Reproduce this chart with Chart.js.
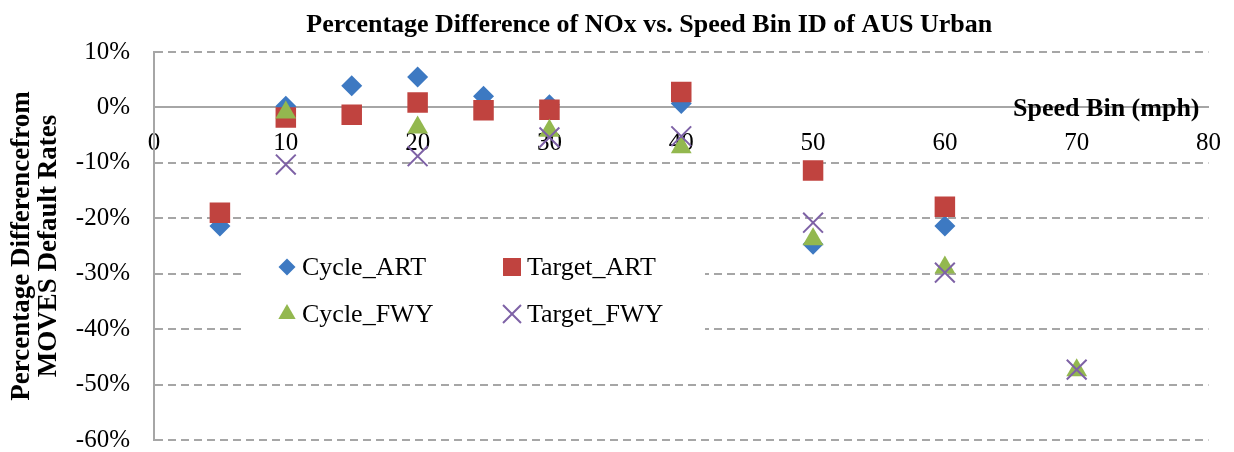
<!DOCTYPE html>
<html>
<head>
<meta charset="utf-8">
<script src="https://cdn.jsdelivr.net/npm/chart.js@4/dist/chart.umd.min.js"></script>
<style>
  html, body { margin: 0; padding: 0; background: #fff; }
  #wrap { width: 1234px; height: 452px; }
</style>
</head>
<body>
<div id="wrap"><canvas id="chart" width="1234" height="452"></canvas></div>
<script>
// Speed bins (mph) and percentage differences
const seriesNames = ['Cycle_ART', 'Target_ART', 'Cycle_FWY', 'Target_FWY']
const cycleArtX = [5, 10, 15, 20, 25, 30, 40, 50, 60]
const cycleArtY = [-21.4, 0.2, 3.9, 5.5, 2.0, 0.5, 0.7, -24.7, -21.4]
const targetArtX = [5, 10, 15, 20, 25, 30, 40, 50, 60]
const targetArtY = [-19.0, -1.8, -1.3, 0.9, -0.5, -0.4, 2.8, -11.4, -17.9]
const cycleFwyX = [10, 20, 30, 40, 50, 60, 70]
const cycleFwyY = [-0.9, -3.6, -4.2, -7.2, -23.8, -28.9, -47.4]
const targetFwyX = [10, 20, 30, 40, 50, 60, 70]
const targetFwyY = [-10.3, -8.8, -5.4, -5.2, -20.8, -29.8, -47.3]
const xTicks = [0, 10, 20, 30, 40, 50, 60, 70, 80]
const yTicks = [10, 0, -10, -20, -30, -40, -50, -60]

const chartTitle = 'Percentage Difference of NOx vs. Speed Bin ID of AUS Urban'
const xTitle = 'Speed Bin (mph)'
const yTitle = ['Percentage Differencefrom', 'MOVES Default Rates']

const serif = "'Liberation Serif', 'Times New Roman', serif"

function pts(xs, ys) {
  return xs.map((x, i) => ({ x: x, y: ys[i] }))
}

// marker look per series; legend markers are a bit smaller
const styles = [
  { pointStyle: 'rectRot', radius: 10.5, legendRadius: 8.5, color: '#3D79C2', border: 0 },
  { pointStyle: 'rect', radius: 14.5, legendRadius: 12.7, color: '#C0433F', border: 0 },
  { pointStyle: 'triangle', radius: 12, legendRadius: 10, color: '#93B84F', border: 0 },
  { pointStyle: 'crossRot', radius: 14, legendRadius: 12.7, color: '#7E62A6', border: 2 }
]
const allData = [
  pts(cycleArtX, cycleArtY),
  pts(targetArtX, targetArtY),
  pts(cycleFwyX, cycleFwyY),
  pts(targetFwyX, targetFwyY)
]

const datasets = seriesNames.map((name, i) => ({
  label: name,
  data: allData[i],
  pointStyle: styles[i].pointStyle,
  pointRadius: styles[i].radius,
  pointHoverRadius: styles[i].radius,
  backgroundColor: styles[i].color,
  borderColor: styles[i].color,
  pointBorderWidth: styles[i].border,
  // later series sit on top, as in the picture
  order: seriesNames.length - i
}))

// legend box inside the plot with a white background, plus the titles
const extras = {
  id: 'extras',
  afterDatasetsDraw(chart) {
    const ctx = chart.ctx
    const a = chart.chartArea
    const bx = a.left + 89, by = a.top + 180
    ctx.save()
    ctx.fillStyle = '#fff'
    ctx.fillRect(bx, by, 462, 118)
    ctx.font = '26px ' + serif
    ctx.textBaseline = 'middle'
    seriesNames.forEach((name, i) => {
      const col = i % 2, row = Math.floor(i / 2)
      const mx = bx + 44 + col * 225
      const my = by + 35 + row * 47
      const s = styles[i]
      ctx.fillStyle = s.color
      ctx.strokeStyle = s.color
      ctx.lineWidth = s.border || 1
      Chart.helpers.drawPoint(ctx, {
        pointStyle: s.pointStyle, rotation: 0, radius: s.legendRadius, borderWidth: s.border
      }, mx, my)
      ctx.fillStyle = '#000'
      ctx.fillText(name, mx + 15, my + 1)
    })
    ctx.restore()
  },
  afterDraw(chart) {
    const ctx = chart.ctx
    const xs = chart.scales.x
    const ys = chart.scales.y
    ctx.save()
    ctx.fillStyle = '#000'
    ctx.textBaseline = 'alphabetic'
    ctx.font = 'bold 26px ' + serif
    ctx.textAlign = 'right'
    ctx.fillText(xTitle, xs.right - 9, ys.getPixelForValue(0) + 9)
    ctx.textAlign = 'center'
    ctx.fillText(chartTitle, (xs.left + xs.right) / 2 - 32, 32)
    ctx.restore()
  }
}

new Chart(document.getElementById('chart'), {
  type: 'scatter',
  data: { datasets: datasets },
  plugins: [extras],
  options: {
    responsive: false,
    animation: false,
    layout: { autoPadding: false, padding: { top: 52, right: 22, bottom: 12, left: 0 } },
    plugins: {
      legend: { display: false },
      tooltip: { enabled: false },
      title: { display: false }
    },
    scales: {
      x: {
        type: 'linear',
        position: { y: 0 },
        min: 0,
        max: 80,
        afterBuildTicks: s => { s.ticks = xTicks.map(v => ({ value: v })) },
        afterFit: s => { s.height = 0 },
        grid: { display: false },
        border: { display: true, color: '#A6A6A6', width: 2 },
        ticks: { color: '#000', padding: 13, font: { family: serif, size: 25 } }
      },
      y: {
        type: 'linear',
        min: -60,
        max: 10,
        afterBuildTicks: s => { s.ticks = yTicks.map(v => ({ value: v })) },
        afterFit: s => {
          s.width = 154
          // keep the plot reaching down to -60% as in the picture
          s.paddingTop = 0
          s.paddingBottom = 0
        },
        grid: { color: '#A6A6A6', lineWidth: 2, drawTicks: false, tickBorderDash: [8, 5] },
        border: { display: true, color: '#A6A6A6', width: 2, dash: [8, 5] },
        ticks: {
          color: '#000',
          padding: 24,
          font: { family: serif, size: 25, lineHeight: 1.0 },
          callback: v => v + '%'
        },
        title: {
          display: true,
          text: yTitle,
          color: '#000',
          font: { family: serif, size: 27, weight: 'bold', lineHeight: 1.0 },
          padding: { top: 9, bottom: 0 }
        }
      }
    }
  }
})
</script>
</body>
</html>
